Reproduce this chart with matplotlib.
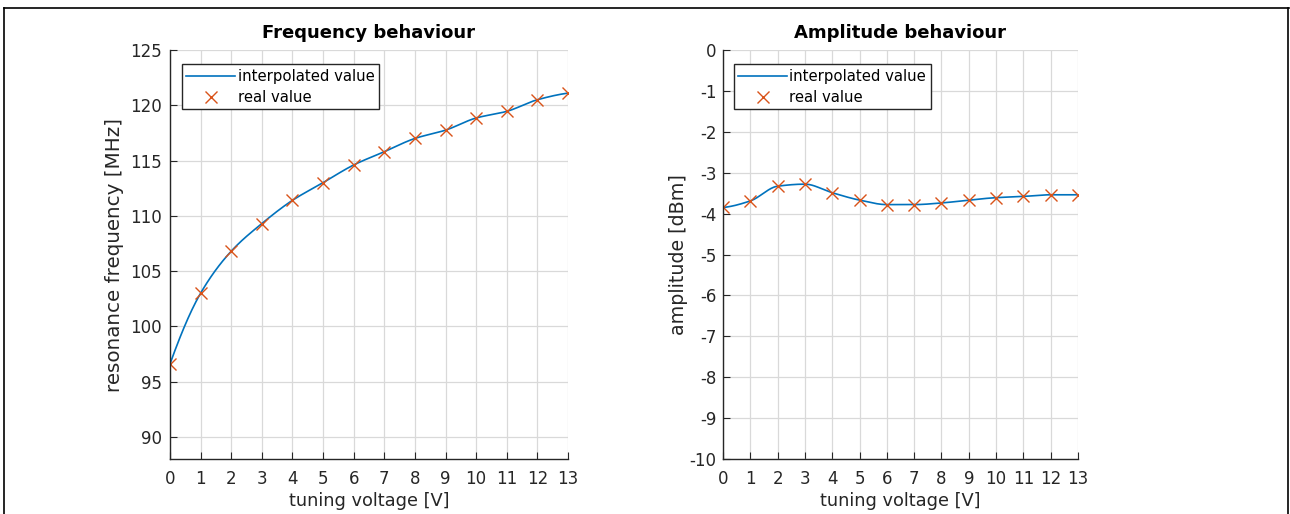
import numpy as np
import matplotlib
matplotlib.use('Agg')
import matplotlib.pyplot as plt
from matplotlib.lines import Line2D

# measured data
voltage = [0, 1, 2, 3, 4, 5, 6, 7, 8, 9, 10, 11, 12, 13]
frequency = [96.6, 103.0, 106.8, 109.3, 111.4, 113.0, 114.6, 115.8, 117.0, 117.75, 118.85, 119.45, 120.5, 121.1]
amplitude = [-3.85, -3.69, -3.33, -3.28, -3.49, -3.67, -3.78, -3.78, -3.74, -3.67, -3.61, -3.58, -3.54, -3.54]

x_ticks = list(range(0, 14))
freq_ticks = [90, 95, 100, 105, 110, 115, 120, 125]
amp_ticks = [0, -1, -2, -3, -4, -5, -6, -7, -8, -9, -10]

line_color = '#0072BD'
marker_color = '#D95319'
ax_color = '#262626'


def pchip(x, y, xs):
    # shape-preserving piecewise cubic through the measured points
    x = np.asarray(x, float)
    y = np.asarray(y, float)
    h = np.diff(x)
    delta = np.diff(y) / h
    n = len(x)
    d = np.zeros(n)
    for k in range(1, n - 1):
        if delta[k - 1] * delta[k] > 0:
            w1 = 2 * h[k] + h[k - 1]
            w2 = h[k] + 2 * h[k - 1]
            d[k] = (w1 + w2) / (w1 / delta[k - 1] + w2 / delta[k])

    def end_slope(h0, h1, d0, d1):
        s = ((2 * h0 + h1) * d0 - h0 * d1) / (h0 + h1)
        if np.sign(s) != np.sign(d0):
            s = 0.0
        elif np.sign(d0) != np.sign(d1) and abs(s) > abs(3 * d0):
            s = 3 * d0
        return s

    d[0] = end_slope(h[0], h[1], delta[0], delta[1])
    d[-1] = end_slope(h[-1], h[-2], delta[-1], delta[-2])
    idx = np.clip(np.searchsorted(x, xs) - 1, 0, n - 2)
    t = (xs - x[idx]) / h[idx]
    h00 = 2 * t ** 3 - 3 * t ** 2 + 1
    h10 = t ** 3 - 2 * t ** 2 + t
    h01 = -2 * t ** 3 + 3 * t ** 2
    h11 = t ** 3 - t ** 2
    return (h00 * y[idx] + h10 * h[idx] * d[idx]
            + h01 * y[idx + 1] + h11 * h[idx] * d[idx + 1])


plt.rcParams['font.family'] = 'DejaVu Sans'
plt.rcParams['axes.unicode_minus'] = False
fig = plt.figure(figsize=(12.9, 5.14), dpi=100)

ax1 = fig.add_axes([170 / 1290, 55 / 514, 398 / 1290, 409 / 514])
ax2 = fig.add_axes([723 / 1290, 55 / 514, 355 / 1290, 409 / 514])

xs = np.linspace(0, 13, 400)

for ax, y, ylim, yt, title, ylabel, ysize, ypad, lpad in [
        (ax1, frequency, (88, 125), freq_ticks, 'Frequency behaviour', 'resonance frequency [MHz]', 14.3, 6, 4),
        (ax2, amplitude, (-10, 0), amp_ticks, 'Amplitude behaviour', 'amplitude [dBm]', 13.7, 4.5, 1)]:
    ax.plot(xs, pchip(voltage, y, xs), color=line_color, lw=1.2, label='interpolated value')
    ax.plot(voltage, y, 'x', color=marker_color, ms=8, mew=1.0, label='real value')
    ax.set_xlim(0, 13)
    ax.set_ylim(*ylim)
    ax.set_xticks(x_ticks)
    ax.set_yticks(yt)
    ax.grid(True, color='#d9d9d9', lw=0.9)
    ax.set_axisbelow(True)
    for s in ['top', 'right']:
        ax.spines[s].set_visible(False)
    for s in ['left', 'bottom']:
        ax.spines[s].set_color(ax_color)
        ax.spines[s].set_linewidth(1.0)
    ax.tick_params(direction='in', length=5, colors=ax_color, labelsize=12)
    ax.tick_params(axis='x', pad=8)
    ax.tick_params(axis='y', pad=ypad)
    ax.set_title(title, fontsize=13, fontweight='bold', pad=9)
    ax.set_xlabel('tuning voltage [V]', fontsize=12.8, color=ax_color, labelpad=3)
    ax.set_ylabel(ylabel, fontsize=ysize, color=ax_color, labelpad=lpad)
    leg = ax.legend(loc='upper left', bbox_to_anchor=(0.03, 0.965), fancybox=False,
                    framealpha=1, edgecolor=ax_color, fontsize=10.7, borderpad=0.3,
                    handlelength=3.3, handletextpad=0.15, labelspacing=0.4, borderaxespad=0)
    leg.get_frame().set_linewidth(1.0)

# outer frame
fig.add_artist(Line2D([4 / 1290, 4 / 1290], [0, 1 - 8 / 514], color='black', lw=1.2))
fig.add_artist(Line2D([4 / 1290, 1289 / 1290], [1 - 8 / 514, 1 - 8 / 514], color='black', lw=1.2))
fig.add_artist(Line2D([1288 / 1290, 1288 / 1290], [0, 1 - 8 / 514], color='black', lw=1.2))

fig.savefig('out.png', dpi=100)
